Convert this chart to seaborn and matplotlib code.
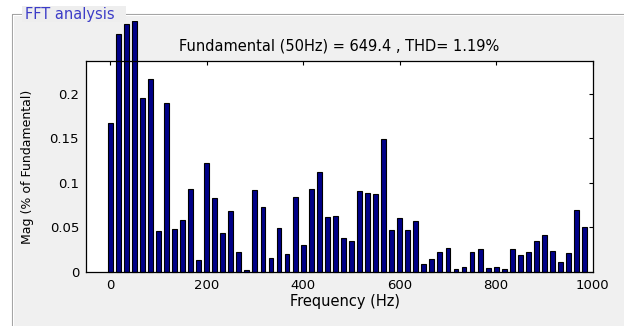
import pandas as pd
import seaborn as sns
import matplotlib.pyplot as plt
from matplotlib.patches import Rectangle
from matplotlib.lines import Line2D
from matplotlib.transforms import Bbox, TransformedBbox

# harmonic bins (3-cycle window -> 16.7 Hz resolution)
freq_hz = [0, 16.7, 33.3, 50, 66.7, 83.3, 100, 116.7, 133.3, 150,
           166.7, 183.3, 200, 216.7, 233.3, 250, 266.7, 283.3, 300, 316.7,
           333.3, 350, 366.7, 383.3, 400, 416.7, 433.3, 450, 466.7, 483.3,
           500, 516.7, 533.3, 550, 566.7, 583.3, 600, 616.7, 633.3, 650,
           666.7, 683.3, 700, 716.7, 733.3, 750, 766.7, 783.3, 800, 816.7,
           833.3, 850, 866.7, 883.3, 900, 916.7, 933.3, 950, 966.7, 983.3]
mag_pct = [0.167, 0.267, 0.279, 0.282, 0.196, 0.217, 0.046, 0.190, 0.048, 0.058,
           0.093, 0.013, 0.122, 0.0835, 0.044, 0.0685, 0.023, 0.0022, 0.0925, 0.0727,
           0.016, 0.0498, 0.0199, 0.0846, 0.0303, 0.0929, 0.1127, 0.0614, 0.0629, 0.0386,
           0.0348, 0.0906, 0.0884, 0.0873, 0.1494, 0.0468, 0.0603, 0.0468, 0.0569, 0.0094,
           0.0142, 0.0221, 0.027, 0.0037, 0.006, 0.0221, 0.0258, 0.0049, 0.006, 0.0034,
           0.0255, 0.0195, 0.0221, 0.0348, 0.042, 0.0236, 0.0116, 0.021, 0.0697, 0.051]

x_ticks = [0, 200, 400, 600, 800, 1000]
y_ticks = [0, 0.05, 0.1, 0.15, 0.2]
y_tick_labels = ['0', '0.05', '0.1', '0.15', '0.2']

title_txt = 'Fundamental (50Hz) = 649.4 , THD= 1.19%'

sns.set_style('white')
plt.rcParams['font.family'] = ['DejaVu Sans']
plt.rcParams['text.color'] = 'black'
plt.rcParams['axes.labelcolor'] = 'black'

W, H = 624, 326
fig = plt.figure(figsize=(W / 100, H / 100), dpi=100, facecolor='white')

# panel background + etched border
fig.patches.append(Rectangle((12 / W, 0), 1 - 12 / W, 1 - 14 / H,
                             transform=fig.transFigure, facecolor='#f0f0f0',
                             edgecolor='none', zorder=-5))
for off, col in [(0, '#a0a0a0'), (1, 'white')]:
    fig.add_artist(Line2D([(12 + off) / W, 1], [1 - (14 + off) / H] * 2,
                          transform=fig.transFigure, color=col, lw=0.8,
                          zorder=-4))
    fig.add_artist(Line2D([(12 + off) / W] * 2, [0, 1 - (14 + off) / H],
                          transform=fig.transFigure, color=col, lw=0.8,
                          zorder=-4))
fig.patches.append(Rectangle((22 / W, 1 - 22 / H), 104 / W, 16 / H,
                             transform=fig.transFigure, facecolor='#eeeeee',
                             edgecolor='none', zorder=-3))
fig.text(25 / W, 1 - 14 / H, 'FFT analysis', color='#3c3cc8', fontsize=10.5,
         va='center', ha='left', zorder=-2)

ax = fig.add_axes([86 / W, 1 - 272 / H, (592.7 - 86) / W, (272 - 61) / H])
ax.set_facecolor('white')

df = pd.DataFrame({'Frequency': freq_hz, 'Mag': mag_pct})
sns.barplot(data=df, x='Frequency', y='Mag', native_scale=True, width=0.6,
            color='#000088', saturation=1, edgecolor='black', linewidth=0.8,
            ax=ax)

# bars may run past the axes top, cut only at the panel edge
clip = TransformedBbox(Bbox.from_extents(0, 0, 1, 1 - 21 / H), fig.transFigure)
for p in ax.patches:
    p.set_clip_on(True)
    p.set_clip_path(None)
    p.set_clip_box(clip)

ax.set_xlim(-50, 1000)
ax.set_ylim(0, 0.237)
ax.set_xticks(x_ticks)
ax.set_xticklabels([str(t) for t in x_ticks])
ax.set_yticks(y_ticks)
ax.set_yticklabels(y_tick_labels)
ax.tick_params(direction='in', length=3, top=True, right=True,
               labelsize=9.5, colors='black', pad=5)
for s in ax.spines.values():
    s.set_color('black')
    s.set_linewidth(0.9)

ax.set_xlabel('Frequency (Hz)', fontsize=10.5, va='center', color='black')
ax.xaxis.set_label_coords(0.511, -0.142)
ax.set_ylabel('Mag (% of Fundamental)', fontsize=9, va='center', color='black')
ax.yaxis.set_label_coords(-0.1145, 0.5)
ax.text(0.5, 1.071, title_txt, transform=ax.transAxes, ha='center',
        va='center', fontsize=10.5, color='black')

fig.savefig('out.png', dpi=100, facecolor=fig.get_facecolor())
